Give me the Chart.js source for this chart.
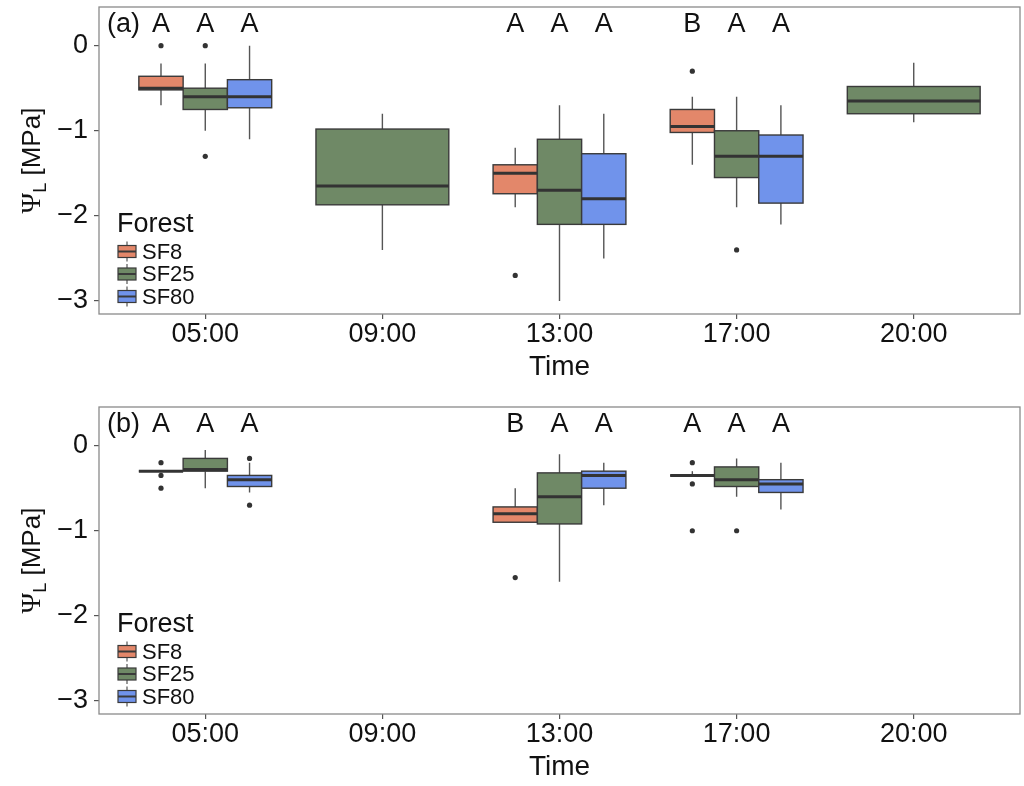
<!DOCTYPE html>
<html>
<head>
<meta charset="utf-8">
<script src="https://cdn.jsdelivr.net/npm/chart.js@4.4.0/dist/chart.umd.min.js"></script>
<style>
  body { margin: 0; background: #fff; }
  canvas { display: block; }
</style>
</head>
<body>
<canvas id="chartA" width="1024" height="400"></canvas>
<canvas id="chartB" width="1024" height="386"></canvas>
<script>
const times = ['05:00', '09:00', '13:00', '17:00', '20:00'];
const forests = ['SF8', 'SF25', 'SF80'];
const forestColors = ['#e3876a', '#6f8966', '#7093eb'];
const yTicks = [0, -1, -2, -3];

// panel (a): [lower whisker, Q1, median, Q3, upper whisker] per time, null = no box
const aSF8 = [[-0.70, -0.52, -0.50, -0.36, -0.21], null, [-1.90, -1.74, -1.50, -1.40, -1.20], [-1.40, -1.02, -0.95, -0.75, -0.60], null];
const aSF25 = [[-1.00, -0.75, -0.60, -0.50, -0.21], [-2.40, -1.87, -1.65, -0.98, -0.80], [-3.00, -2.10, -1.70, -1.10, -0.70], [-1.90, -1.55, -1.30, -1.00, -0.60], [-0.90, -0.80, -0.65, -0.48, -0.20]];
const aSF80 = [[-1.10, -0.73, -0.60, -0.40, 0.00], null, [-2.50, -2.10, -1.80, -1.27, -0.80], [-2.10, -1.85, -1.30, -1.05, -0.70], null];
const aSF8Out = [[0], [], [-2.7], [-0.3], []];
const aSF25Out = [[0, -1.3], [], [], [-2.4], []];
const aSF80Out = [[], [], [], [], []];
const aLetters = [['A', 'A', 'A'], null, ['A', 'A', 'A'], ['B', 'A', 'A'], null];

// panel (b)
const bSF8 = [[-0.30, -0.30, -0.30, -0.30, -0.30], null, [-0.90, -0.90, -0.80, -0.72, -0.50], [-0.35, -0.35, -0.35, -0.35, -0.30], null];
const bSF25 = [[-0.50, -0.30, -0.28, -0.15, -0.05], null, [-1.60, -0.92, -0.60, -0.32, -0.10], [-0.60, -0.48, -0.40, -0.25, -0.15], null];
const bSF80 = [[-0.55, -0.48, -0.40, -0.35, -0.20], null, [-0.70, -0.50, -0.35, -0.30, -0.20], [-0.75, -0.55, -0.45, -0.40, -0.20], null];
const bSF8Out = [[-0.2, -0.35, -0.5], [], [-1.55], [-0.2, -0.45, -1.0], []];
const bSF25Out = [[], [], [], [-1.0], []];
const bSF80Out = [[-0.15, -0.7], [], [], [], []];
const bLetters = [['A', 'A', 'A'], null, ['B', 'A', 'A'], ['A', 'A', 'A'], null];

Chart.defaults.font.family = '"Liberation Sans", Arial, sans-serif';
Chart.defaults.color = '#111';

const DODGE = 0.75;

// boxes present at one time slot share the dodge width
function slots(stats, i) {
  const present = [];
  forests.forEach((f, k) => { if (stats[k][i]) present.push(k); });
  const w = DODGE / present.length;
  return present.map((k, j) => ({ k: k, w: w, c: i + 1 - DODGE / 2 + w * (j + 0.5) }));
}

function makePanel(canvasId, tag, stats, outs, letters, padBottom) {
  const datasets = forests.map((f, k) => {
    const pts = [];
    times.forEach((t, i) => {
      const s = slots(stats, i).find(o => o.k === k);
      if (!s) return;
      outs[k][i].forEach(v => pts.push({ x: s.c, y: v }));
    });
    return {
      label: f,
      data: pts,
      pointRadius: 2.6,
      pointBackgroundColor: '#333',
      pointBorderWidth: 0
    };
  });

  const boxes = {
    id: 'boxes',
    beforeDatasetsDraw(chart) {
      const { ctx, scales: { x, y } } = chart;
      ctx.save();
      times.forEach((t, i) => {
        slots(stats, i).forEach(o => {
          const s = stats[o.k][i];
          const x0 = x.getPixelForValue(o.c - o.w / 2);
          const x1 = x.getPixelForValue(o.c + o.w / 2);
          const xm = x.getPixelForValue(o.c);
          // whiskers
          ctx.strokeStyle = '#555';
          ctx.lineWidth = 1.4;
          ctx.beginPath();
          ctx.moveTo(xm, y.getPixelForValue(s[0]));
          ctx.lineTo(xm, y.getPixelForValue(s[1]));
          ctx.moveTo(xm, y.getPixelForValue(s[3]));
          ctx.lineTo(xm, y.getPixelForValue(s[4]));
          ctx.stroke();
          // box
          const yt = y.getPixelForValue(s[3]);
          const yb = y.getPixelForValue(s[1]);
          ctx.fillStyle = forestColors[o.k];
          ctx.fillRect(x0, yt, x1 - x0, yb - yt);
          ctx.strokeStyle = '#3a3a3a';
          ctx.lineWidth = 1.4;
          ctx.strokeRect(x0, yt, x1 - x0, yb - yt);
          // median
          ctx.strokeStyle = '#333';
          ctx.lineWidth = 3;
          ctx.beginPath();
          ctx.moveTo(x0, y.getPixelForValue(s[2]));
          ctx.lineTo(x1, y.getPixelForValue(s[2]));
          ctx.stroke();
        });
      });
      ctx.restore();
    },
    afterDraw(chart) {
      const { ctx, chartArea: a, scales: { x, y } } = chart;
      ctx.save();
      // panel frame
      ctx.strokeStyle = '#8a8a8a';
      ctx.lineWidth = 1.3;
      ctx.strokeRect(a.left, a.top, a.right - a.left, a.bottom - a.top);

      // significance letters
      ctx.fillStyle = '#111';
      ctx.font = '27px "Liberation Sans", Arial, sans-serif';
      ctx.textBaseline = 'middle';
      const ly = y.getPixelForValue(0.245);
      ctx.textAlign = 'left';
      ctx.fillText(tag, a.left + 8, ly);
      ctx.textAlign = 'center';
      letters.forEach((row, i) => {
        if (!row) return;
        slots(stats, i).forEach(o => ctx.fillText(row[o.k], x.getPixelForValue(o.c), ly));
      });

      // legend
      ctx.textAlign = 'left';
      ctx.font = '27px "Liberation Sans", Arial, sans-serif';
      ctx.fillText('Forest', a.left + 18, a.bottom - 89);
      ctx.font = '22px "Liberation Sans", Arial, sans-serif';
      forests.forEach((f, k) => {
        const cy = a.bottom - 62.5 + k * 22.5;
        const kx = a.left + 19;
        ctx.strokeStyle = '#555';
        ctx.lineWidth = 1.2;
        ctx.beginPath();
        ctx.moveTo(kx + 9, cy - 10);
        ctx.lineTo(kx + 9, cy + 10);
        ctx.stroke();
        ctx.fillStyle = forestColors[k];
        ctx.fillRect(kx, cy - 6, 18, 12);
        ctx.strokeStyle = '#3a3a3a';
        ctx.strokeRect(kx, cy - 6, 18, 12);
        ctx.lineWidth = 2;
        ctx.beginPath();
        ctx.moveTo(kx, cy);
        ctx.lineTo(kx + 18, cy);
        ctx.stroke();
        ctx.fillStyle = '#111';
        ctx.fillText(f, kx + 24, cy + 1);
      });

      // y axis title: Psi with subscript L
      const cyT = (a.top + a.bottom) / 2;
      ctx.translate(40, cyT);
      ctx.rotate(-Math.PI / 2);
      ctx.textBaseline = 'alphabetic';
      const fPsi = '28px "Liberation Serif", "Times New Roman", serif';
      const fSub = '18px "Liberation Sans", Arial, sans-serif';
      const fMain = '26px "Liberation Sans", Arial, sans-serif';
      ctx.font = fPsi; const wPsi = ctx.measureText('\u03a8').width;
      ctx.font = fSub; const wSub = ctx.measureText('L').width;
      ctx.font = fMain; const wMain = ctx.measureText(' [MPa]').width;
      let tx = -(wPsi + wSub + wMain) / 2;
      ctx.font = fPsi; ctx.fillText('\u03a8', tx, 0); tx += wPsi;
      ctx.font = fSub; ctx.fillText('L', tx, 6); tx += wSub;
      ctx.font = fMain; ctx.fillText(' [MPa]', tx, 0);
      ctx.restore();
    }
  };

  return new Chart(document.getElementById(canvasId), {
    type: 'scatter',
    data: { datasets: datasets },
    options: {
      responsive: false,
      animation: false,
      devicePixelRatio: 1,
      layout: { padding: { top: 7, right: 1, bottom: padBottom, left: 0 } },
      plugins: { legend: { display: false }, tooltip: { enabled: false } },
      scales: {
        x: {
          type: 'linear',
          min: 0.4,
          max: 5.6,
          afterBuildTicks: s => { s.ticks = times.map((t, i) => ({ value: i + 1 })); },
          afterFit: s => { s.height = 72; s.paddingLeft = 0; s.paddingRight = 0; },
          ticks: {
            callback: v => times[v - 1],
            font: { size: 27, lineHeight: 1 },
            padding: 2,
            maxRotation: 0,
            color: '#111'
          },
          grid: { drawOnChartArea: false, drawTicks: true, tickLength: 5, color: '#555', lineWidth: 1.2 },
          border: { display: false },
          title: { display: true, text: 'Time', font: { size: 28 }, padding: { top: 0, bottom: 2 }, color: '#111' }
        },
        y: {
          type: 'linear',
          min: -3.153,
          max: 0.454,
          afterBuildTicks: s => { s.ticks = yTicks.map(v => ({ value: v })); },
          afterFit: s => { s.width = 99; s.paddingTop = 0; s.paddingBottom = 0; },
          ticks: {
            callback: v => (v === 0 ? '0' : '\u2212' + Math.abs(v)),
            font: { size: 27 },
            padding: 6,
            color: '#111'
          },
          grid: { drawOnChartArea: false, drawTicks: true, tickLength: 5, color: '#555', lineWidth: 1.2 },
          border: { display: false }
        }
      }
    },
    plugins: [boxes]
  });
}

makePanel('chartA', '(a)', [aSF8, aSF25, aSF80], [aSF8Out, aSF25Out, aSF80Out], aLetters, 14);
makePanel('chartB', '(b)', [bSF8, bSF25, bSF80], [bSF8Out, bSF25Out, bSF80Out], bLetters, 0);
</script>
</body>
</html>
